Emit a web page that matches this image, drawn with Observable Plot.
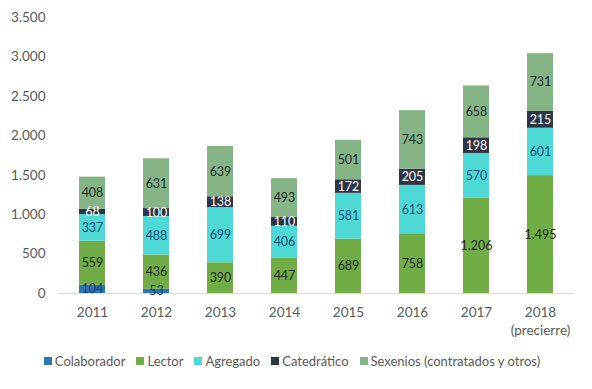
<!DOCTYPE html>
<html>
<head>
<meta charset="utf-8">
<script src="https://cdn.jsdelivr.net/npm/d3@7"></script>
<script src="https://cdn.jsdelivr.net/npm/@observablehq/plot@0.6"></script>
<style>
  body { margin: 0; background: #fff; font-family: Lato, "Open Sans", sans-serif; }
  #chart { width: 592px; }
  .legend { display: flex; justify-content: center; gap: 11px; font-size: 13px; color: #595959; margin-top: 13px; margin-left: -8px; }
  .legend span.item { display: inline-flex; align-items: center; }
  .legend i { display: inline-block; width: 8px; height: 8px; margin-right: 3px; }
</style>
</head>
<body>
<div id="chart"></div>
<script>
const years = ["2011", "2012", "2013", "2014", "2015", "2016", "2017", "2018"];
const yearLabels = ["2011", "2012", "2013", "2014", "2015", "2016", "2017", "2018\n(precierre)"];
const seriesNames = ["Colaborador", "Lector", "Agregado", "Catedrático", "Sexenios (contratados y otros)"];
const colaborador = [104, 53, 0, 0, 0, 0, 0, 0];
const lector = [559, 436, 390, 447, 689, 758, 1206, 1495];
const agregado = [337, 488, 699, 406, 581, 613, 570, 601];
const catedratico = [68, 100, 138, 110, 172, 205, 198, 215];
const sexenios = [408, 631, 639, 493, 501, 743, 658, 731];
const colors = ["#2e75b6", "#70ad47", "#4fd9d6", "#2c3446", "#85b487"];
const labelColors = ["#1f3864", "#1e2b2a", "#1f4e79", "#ffffff", "#1e2b2a"];
const yTicks = [0, 500, 1000, 1500, 2000, 2500, 3000, 3500];

const seriesValues = [colaborador, lector, agregado, catedratico, sexenios];
const data = [];
years.forEach((yr, i) => {
  seriesNames.forEach((s, k) => {
    data.push({year: yr, series: s, value: seriesValues[k][i]});
  });
});

const loc = d3.formatLocale({decimal: ",", thousands: ".", grouping: [3], currency: ["", "€"]});
const fmt = loc.format(",d");
const labelMap = new Map(years.map((y, i) => [y, yearLabels[i]]));
const labelColor = new Map(seriesNames.map((s, k) => [s, labelColors[k]]));

const chart = Plot.plot({
  width: 592,
  height: 340,
  marginTop: 17,
  marginBottom: 47,
  marginLeft: 58,
  marginRight: 18,
  style: {fontFamily: "Lato, 'Open Sans', sans-serif", fontSize: "13px", color: "#595959", background: "#fff"},
  x: {domain: years, paddingInner: 0.6, paddingOuter: 0.3, label: null},
  y: {domain: [0, 3500], label: null},
  color: {domain: seriesNames, range: colors},
  marks: [
    Plot.axisY(yTicks, {tickSize: 0, tickPadding: 13, tickFormat: d => fmt(d), fontSize: 13.5, label: null}),
    Plot.axisX({tickSize: 0, tickPadding: 11, tickFormat: d => labelMap.get(d), lineHeight: 1.3, fontSize: 13.5, label: null}),
    Plot.barY(data, Plot.stackY({x: "year", y: "value", z: "series", fill: "series", order: null})),
    Plot.ruleY([0], {stroke: "#d9d9d9", strokeWidth: 1}),
    Plot.text(data, Plot.stackY({
      x: "year", y: "value", z: "series", order: null,
      text: d => d.value > 0 ? fmt(d.value) : "",
      fill: d => labelColor.get(d.series),
      fontSize: 12.5
    }))
  ]
});

document.getElementById("chart").appendChild(chart);

const legend = document.createElement("div");
legend.className = "legend";
seriesNames.forEach((s, k) => {
  const it = document.createElement("span");
  it.className = "item";
  it.innerHTML = `<i style="background:${colors[k]}"></i>${s}`;
  legend.appendChild(it);
});
document.getElementById("chart").appendChild(legend);
</script>
</body>
</html>
